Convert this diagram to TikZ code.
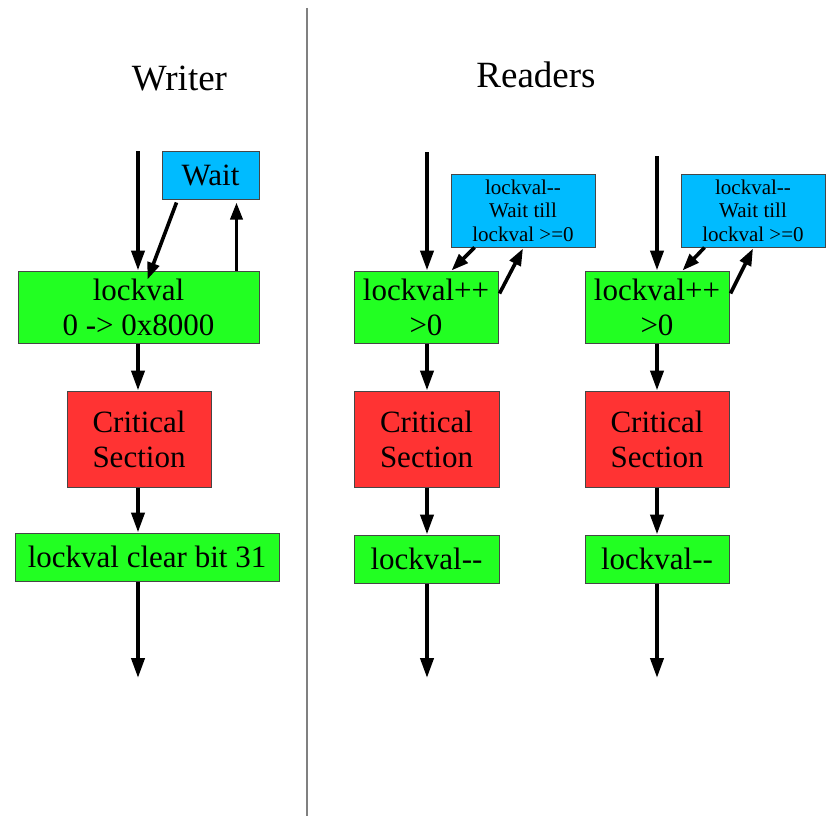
\documentclass[tikz,border=0pt]{standalone}
\usepackage{fontspec}
\setmainfont{Liberation Serif}
\usetikzlibrary{arrows.meta,calc}
\definecolor{boxgreen}{RGB}{34,255,34}
\definecolor{boxred}{RGB}{255,51,51}
\definecolor{boxblue}{RGB}{0,187,255}
\definecolor{edgegray}{RGB}{70,70,70}
\begin{document}
\begin{tikzpicture}[x=1pt,y=-1pt,
  box/.style={draw=edgegray,line width=1pt,inner sep=0pt,align=center,text=black},
  green/.style={box,fill=boxgreen},
  red/.style={box,fill=boxred},
  blue/.style={box,fill=boxblue},
  big/.style={font=\fontsize{31}{35}\selectfont},
  small/.style={font=\fontsize{21}{23.5}\selectfont},
  title/.style={font=\fontsize{37}{40}\selectfont,anchor=base,inner sep=0pt},
  arr/.style={line width=4pt,-{Triangle[width=13pt 0,length=20pt 0]}},
  thinarr/.style={line width=3.6pt,-{Triangle[width=12pt 0,length=17pt 0]}}]
\useasboundingbox (0,0) rectangle (830,816);

% column divider
\coordinate (divtop) at (307,8);
\coordinate (divbot) at (307,816);
\draw[gray,line width=1.2pt] (divtop) -- (divbot);

% titles
\node[title] (twriter) at (179.5,90) {Writer};
\node[title] (treaders) at (536,88) {Readers};

% ---------------- writer ----------------
\node[blue,big,minimum width=97,minimum height=48] (wait) at (210.5,175) {Wait};
\node[green,big,minimum width=241,minimum height=72] (wlock) at (138.5,307) {lockval\\0 -> 0x8000};
\node[red,big,minimum width=144,minimum height=96] (wcrit) at (139,439) {Critical\\Section};
\node[green,big,minimum width=264,minimum height=48] (wclear) at (147,557) {lockval clear bit 31};
\coordinate (win) at (138,151);
\coordinate (wout) at (138,678);

\draw[arr] (win) -- (win |- wlock.north);
\draw[thinarr] ([shift={(15pt,-3pt)}]wait.south west) -- ([shift={(130pt,-9pt)}]wlock.north west);
\draw[thinarr] ([xshift=219pt]wlock.north west) -- ([shift={(75pt,-3pt)}]wait.south west);
\draw[arr] (win |- wlock.south) -- (win |- wcrit.north);
\draw[arr] (win |- wcrit.south) -- (win |- wclear.north);
\draw[arr] (win |- wclear.south) -- (wout);

% ---------------- reader 1 ----------------
\node[blue,small,minimum width=144,minimum height=73] (rwait1) at (523,210.5) {lockval-{}-\\Wait till\\lockval >=0};
\node[green,big,minimum width=144,minimum height=72] (rlock1) at (426,307) {lockval++\\>0};
\node[red,big,minimum width=145,minimum height=96] (rcrit1) at (426.5,439) {Critical\\Section};
\node[green,big,minimum width=145,minimum height=48] (rdec1) at (426.5,559) {lockval-{}-};
\coordinate (rin1) at (427,152);
\coordinate (rout1) at (427,678);

\draw[arr] (rin1) -- (rin1 |- rlock1.north);
\draw[thinarr] ([shift={(24pt,0pt)}]rwait1.south west) -- ([xshift=98pt]rlock1.north west);
\draw[thinarr] ([shift={(1pt,-23pt)}]rlock1.north east) -- ([yshift=-1pt]rwait1.south);
\draw[arr] (rin1 |- rlock1.south) -- (rin1 |- rcrit1.north);
\draw[arr] (rin1 |- rcrit1.south) -- (rin1 |- rdec1.north);
\draw[arr] (rin1 |- rdec1.south) -- (rout1);

% ---------------- reader 2 ----------------
\node[blue,small,minimum width=144,minimum height=73] (rwait2) at (753,210.5) {lockval-{}-\\Wait till\\lockval >=0};
\node[green,big,minimum width=144,minimum height=72] (rlock2) at (657,307) {lockval++\\>0};
\node[red,big,minimum width=144,minimum height=96] (rcrit2) at (657,439) {Critical\\Section};
\node[green,big,minimum width=144,minimum height=48] (rdec2) at (657,559) {lockval-{}-};
\coordinate (rin2) at (657,156);
\coordinate (rout2) at (657,678);

\draw[arr] (rin2) -- (rin2 |- rlock2.north);
\draw[thinarr] ([shift={(24pt,0pt)}]rwait2.south west) -- ([xshift=98pt]rlock2.north west);
\draw[thinarr] ([shift={(1pt,-23pt)}]rlock2.north east) -- ([yshift=-1pt]rwait2.south);
\draw[arr] (rin2 |- rlock2.south) -- (rin2 |- rcrit2.north);
\draw[arr] (rin2 |- rcrit2.south) -- (rin2 |- rdec2.north);
\draw[arr] (rin2 |- rdec2.south) -- (rout2);
\end{tikzpicture}
\end{document}
